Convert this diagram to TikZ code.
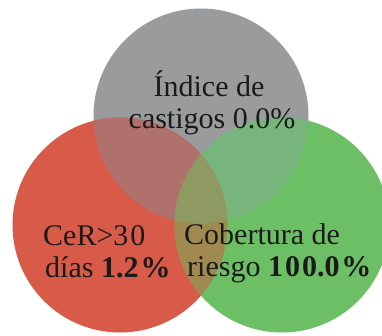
\documentclass[tikz,border=0pt]{standalone}
\usepackage{fontspec}
\setmainfont{Liberation Serif}
\definecolor{cgray}{RGB}{154,155,157}
\definecolor{cred}{RGB}{216,91,74}
\definecolor{cgreen}{RGB}{108,191,100}
\definecolor{credgray}{RGB}{176,112,107}
\definecolor{cgreengray}{RGB}{119,181,124}
\definecolor{credgreen}{RGB}{160,138,80}
\definecolor{ctriple}{RGB}{143,154,98}
\definecolor{ctext}{RGB}{26,26,26}
\newcommand{\ksp}{\kern2pt}
\begin{document}
\begin{tikzpicture}[x=1pt,y=-1pt,
  lbl/.style={inner sep=0pt,text=ctext,font=\fontsize{30}{33}\selectfont}]
\useasboundingbox (0,0) rectangle (382,335);
\fill[white] (0,0) rectangle (382,335);
\coordinate (G) at (201,116);
\coordinate (R) at (120,225);
\coordinate (N) at (282,225);
\def\rad{107.5}
\fill[cgray] (G) circle (\rad);
\fill[cred] (R) circle (\rad);
\fill[cgreen] (N) circle (\rad);
\begin{scope}\clip (G) circle (\rad); \fill[credgray] (R) circle (\rad);\end{scope}
\begin{scope}\clip (G) circle (\rad); \fill[cgreengray] (N) circle (\rad);\end{scope}
\begin{scope}\clip (R) circle (\rad); \fill[credgreen] (N) circle (\rad);\end{scope}
\begin{scope}\clip (G) circle (\rad); \clip (R) circle (\rad); \fill[ctriple] (N) circle (\rad);\end{scope}
\node[lbl,anchor=base] (t1) at (209,96) {Índice de};
\node[lbl,anchor=base] (t2) at (212,128) {castigos 0.0\%};
\node[lbl,anchor=base west] (l1) at (43,245) {CeR>3\ksp0};
\node[lbl,anchor=base west] (l2) at (45,277) {días \textbf{1.2\ksp\%}};
\node[lbl,anchor=base west] (r1) at (184,244) {Cobertura de};
\node[lbl,anchor=base west] (r2) at (187,276) {riesgo \textbf{1\ksp0\ksp0.0\ksp\%}};
\end{tikzpicture}
\end{document}
